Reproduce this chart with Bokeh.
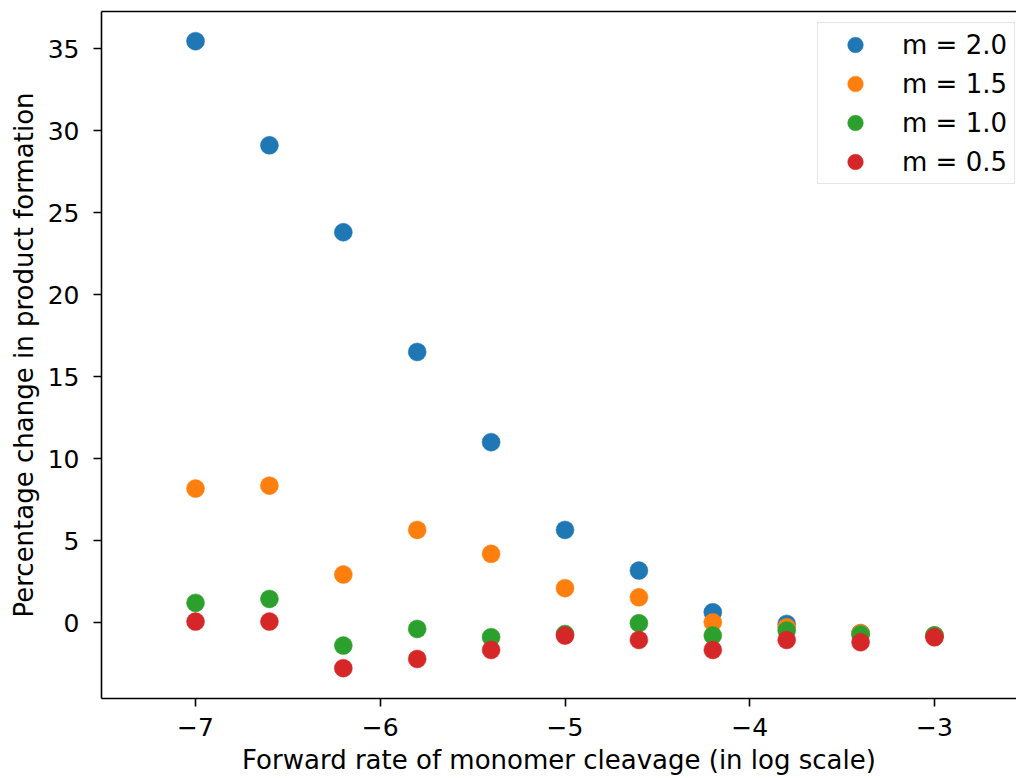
from bokeh.plotting import figure
from bokeh.models import (Range1d, FixedTicker, CustomJSTickFormatter, Legend,
                          LegendItem, LinearAxis)
from bokeh.embed import file_html
from bokeh.resources import INLINE

# ---- data ----
log_rate = [-7.0, -6.6, -6.2, -5.8, -5.4, -5.0, -4.6, -4.2, -3.8, -3.4, -3.0]
m_2_0 = [35.45, 29.1, 23.8, 16.5, 11.0, 5.65, 3.17, 0.63, -0.08, -0.65, -0.79]
m_1_5 = [8.17, 8.35, 2.93, 5.65, 4.19, 2.1, 1.54, 0.02, -0.28, -0.65, -0.79]
m_1_0 = [1.2, 1.44, -1.4, -0.39, -0.89, -0.7, -0.04, -0.79, -0.49, -0.73, -0.79]
m_0_5 = [0.06, 0.06, -2.78, -2.22, -1.67, -0.79, -1.06, -1.67, -1.06, -1.2, -0.9]

series_labels = ["m = 2.0", "m = 1.5", "m = 1.0", "m = 0.5"]
series_values = [m_2_0, m_1_5, m_1_0, m_0_5]
series_colors = ["#1f77b4", "#ff7f0e", "#2ca02c", "#d62728"]

x_ticks = [-7, -6, -5, -4, -3]
y_ticks = [0, 5, 10, 15, 20, 25, 30, 35]

x_label = "Forward rate of monomer cleavage (in log scale)"
y_label = "Percentage change in product formation"

FONT = "DejaVu Sans"

p = figure(width=1016, height=778, output_backend="svg", toolbar_location=None,
           x_range=Range1d(-7.509, -2.556), y_range=Range1d(-4.63, 37.26),
           min_border_left=101, min_border_right=0, min_border_top=11,
           min_border_bottom=80)
p.outline_line_color = None
p.background_fill_color = "white"
p.border_fill_color = "white"
p.xgrid.visible = False
p.ygrid.visible = False

fmt = CustomJSTickFormatter(code="return (tick < 0 ? '\\u2212' : '') + Math.abs(tick).toString();")

for ax, ticks in ((p.xaxis[0], x_ticks), (p.yaxis[0], y_ticks)):
    ax.ticker = FixedTicker(ticks=ticks)
    ax.formatter = fmt
    ax.minor_tick_line_color = None
    ax.major_tick_in = 0
    ax.major_tick_out = 8
    ax.major_tick_line_width = 1.6
    ax.major_tick_line_color = "black"
    ax.axis_line_color = "black"
    ax.axis_line_width = 1.6
    ax.major_label_text_font = FONT
    ax.major_label_text_font_size = "25px"
    ax.major_label_text_color = "black"
    ax.axis_label_text_font = FONT
    ax.axis_label_text_font_size = "26px"
    ax.axis_label_text_font_style = "normal"
    ax.axis_label_text_color = "black"

p.xaxis[0].axis_label = x_label
p.yaxis[0].axis_label = y_label
p.xaxis[0].major_label_standoff = 11
p.xaxis[0].axis_label_standoff = 6
p.yaxis[0].major_label_standoff = 14
p.yaxis[0].axis_label_standoff = 6

top = LinearAxis(ticker=FixedTicker(ticks=[]), axis_line_color="black",
                 axis_line_width=1.6, major_tick_line_color=None,
                 minor_tick_line_color=None, major_label_text_font_size="0px",
                 major_label_standoff=0, major_tick_out=0, major_tick_in=0)
p.add_layout(top, "above")

items = []
for lab, vals, col in zip(series_labels, series_values, series_colors):
    r = p.scatter(x=log_rate, y=vals, size=18, marker="circle",
                  fill_color=col, line_color=col, line_width=0.5)
    items.append(LegendItem(label=lab, renderers=[r]))

legend = Legend(items=items, location=(716, 514),
                label_text_font=FONT, label_text_font_size="26px",
                label_text_color="black",
                glyph_width=70, glyph_height=39, label_height=39,
                label_width=110, label_standoff=12, spacing=0, padding=2,
                margin=0,
                border_line_color="#cccccc", border_line_width=1,
                background_fill_color="white", background_fill_alpha=0.8)
p.add_layout(legend)

open("out.html", "w").write(file_html(p, INLINE))
